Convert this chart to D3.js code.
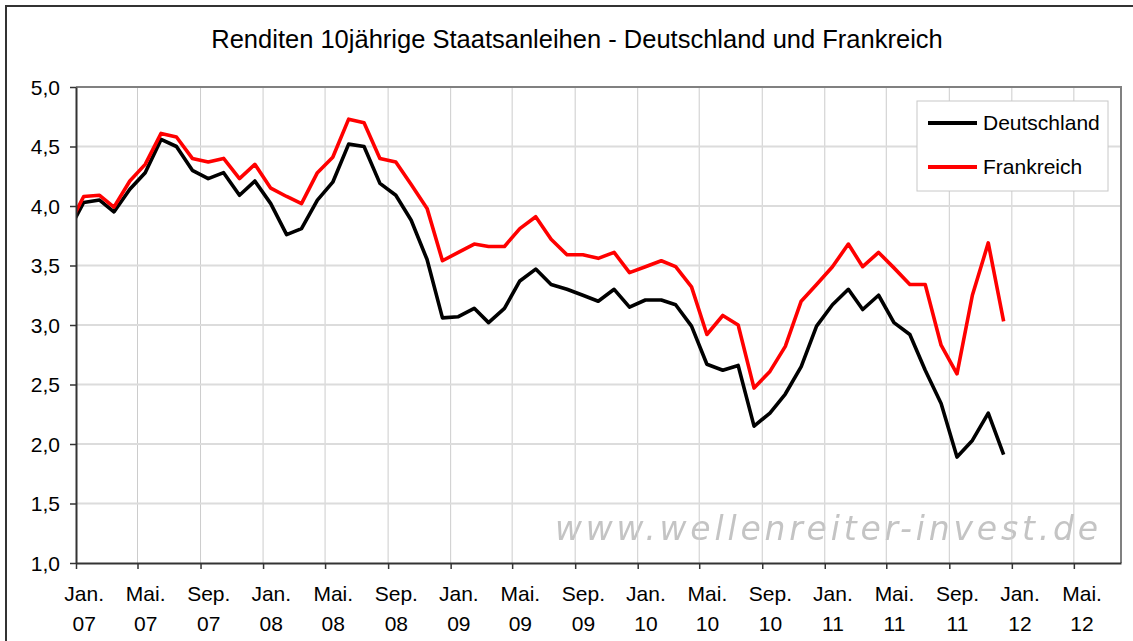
<!DOCTYPE html>
<html><head><meta charset="utf-8">
<script src="https://cdn.jsdelivr.net/npm/d3@7"></script>
<style>body{margin:0;background:#fff}svg{display:block}</style>
</head><body>
<svg id="c" width="1133" height="641"></svg>
<script>
// ---- data ----
const months = [
  "2006-12",
  "2007-01","2007-02","2007-03","2007-04","2007-05","2007-06","2007-07","2007-08","2007-09","2007-10","2007-11","2007-12",
  "2008-01","2008-02","2008-03","2008-04","2008-05","2008-06","2008-07","2008-08","2008-09","2008-10","2008-11","2008-12",
  "2009-01","2009-02","2009-03","2009-04","2009-05","2009-06","2009-07","2009-08","2009-09","2009-10","2009-11","2009-12",
  "2010-01","2010-02","2010-03","2010-04","2010-05","2010-06","2010-07","2010-08","2010-09","2010-10","2010-11","2010-12",
  "2011-01","2011-02","2011-03","2011-04","2011-05","2011-06","2011-07","2011-08","2011-09","2011-10","2011-11","2011-12"
];
const deutschland = [
  3.78,
  4.03,4.05,3.95,4.14,4.28,4.56,4.50,4.30,4.23,4.28,4.09,4.21,
  4.02,3.76,3.81,4.05,4.20,4.52,4.50,4.19,4.09,3.88,3.55,3.06,
  3.07,3.14,3.02,3.14,3.37,3.47,3.34,3.30,3.25,3.20,3.30,3.15,
  3.21,3.21,3.17,2.99,2.67,2.62,2.66,2.15,2.26,2.42,2.65,2.99,
  3.17,3.30,3.13,3.25,3.02,2.92,2.62,2.34,1.89,2.03,2.26,1.91
];
const frankreich = [
  3.82,
  4.08,4.09,3.99,4.21,4.35,4.61,4.58,4.40,4.37,4.40,4.23,4.35,
  4.15,4.08,4.02,4.28,4.41,4.73,4.70,4.40,4.37,4.18,3.98,3.54,
  3.61,3.68,3.66,3.66,3.81,3.91,3.72,3.59,3.59,3.56,3.61,3.44,
  3.49,3.54,3.49,3.32,2.92,3.08,3.00,2.47,2.61,2.82,3.20,3.34,
  3.49,3.68,3.49,3.61,3.48,3.34,3.34,2.83,2.59,3.25,3.69,3.03
];
const seriesNames = ["Deutschland", "Frankreich"];
const seriesColors = ["#000000", "#ff0000"];
const tickMonths = ["2007-01","2007-05","2007-09","2008-01","2008-05","2008-09","2009-01","2009-05","2009-09",
  "2010-01","2010-05","2010-09","2011-01","2011-05","2011-09","2012-01","2012-05"];
const tickLabelsTop = ["Jan.","Mai.","Sep.","Jan.","Mai.","Sep.","Jan.","Mai.","Sep.","Jan.","Mai.","Sep.","Jan.","Mai.","Sep.","Jan.","Mai."];
const tickLabelsBottom = ["07","07","07","08","08","08","09","09","09","10","10","10","11","11","11","12","12"];
const yTicks = [1.0,1.5,2.0,2.5,3.0,3.5,4.0,4.5,5.0];
const yTickLabels = ["1,0","1,5","2,0","2,5","3,0","3,5","4,0","4,5","5,0"];
const title = "Renditen 10jährige Staatsanleihen - Deutschland und Frankreich";
const watermark = "www.wellenreiter-invest.de";

// ---- layout ----
const L = 76, R = 1121, T = 87, B = 563;
const parseM = s => { const [yy, mm] = s.split("-").map(Number); return new Date(yy, mm - 1, 1); };
const x = d3.scaleTime().domain([new Date(2007,0,1), new Date(2012,7,1)]).range([L, R]);
const y = d3.scaleLinear().domain([1,5]).range([B, T]);
const FONT = "'Liberation Sans', Arial, sans-serif";

const svg = d3.select("#c");
svg.append("rect").attr("x",6).attr("y",6).attr("width",1200).attr("height",800)
  .attr("fill","#fff").attr("stroke","#333").attr("stroke-width",2);

// watermark
svg.append("filter").attr("id","blur").append("feGaussianBlur").attr("stdDeviation",0.6);
svg.append("text").attr("x",555).attr("y",540)
  .attr("font-family","'DejaVu Sans', Verdana, sans-serif").attr("font-style","italic")
  .attr("font-size",33).attr("fill","#c4c4c4").attr("filter","url(#blur)")
  .attr("textLength",543).attr("lengthAdjust","spacing").text(watermark);

// gridlines
const tickDates = tickMonths.map(parseM);
svg.append("g").selectAll("line").data(tickDates.slice(1)).join("line")
  .attr("x1",d=>x(d)).attr("x2",d=>x(d)).attr("y1",T).attr("y2",B)
  .attr("stroke","#cccccc").attr("stroke-width",1);
svg.append("g").selectAll("line").data(yTicks.filter(v=>v>1 && v<5)).join("line")
  .attr("x1",L).attr("x2",R).attr("y1",d=>y(d)).attr("y2",d=>y(d))
  .attr("stroke","#dcdcdc").attr("stroke-width",2);

// plot border (top/right gray)
svg.append("path").attr("d",`M${L},${T}H${R}V${B}`).attr("fill","none")
  .attr("stroke","#808080").attr("stroke-width",2);

// lines
svg.append("clipPath").attr("id","clip").append("rect")
  .attr("x",L).attr("y",T-10).attr("width",R-L).attr("height",B-T+10);
const line = d3.line().x((d,i)=>x(d3.timeDay.offset(parseM(months[i]),15))).y(d=>y(d));
[deutschland, frankreich].forEach((s,k)=>{
  svg.append("path").datum(s).attr("clip-path","url(#clip)")
    .attr("d",line).attr("fill","none").attr("stroke",seriesColors[k])
    .attr("stroke-width",3.6).attr("stroke-linejoin","round");
});

// y axis
const ya = svg.append("g").attr("transform",`translate(${L},0)`)
  .call(d3.axisLeft(y).tickValues(yTicks).tickFormat((d,i)=>yTickLabels[i]).tickSize(6).tickSizeOuter(0));
ya.select(".domain").attr("stroke","#333").attr("stroke-width",2);
ya.selectAll(".tick line").attr("stroke","#333").attr("stroke-width",1.5);
ya.selectAll(".tick text").attr("font-family",FONT).attr("font-size",21).attr("fill","#000")
  .attr("x",-16).attr("dy","0.35em");

// x axis
const xa = svg.append("g").attr("transform",`translate(0,${B})`)
  .call(d3.axisBottom(x).tickValues(tickDates).tickFormat("").tickSize(6).tickSizeOuter(0));
xa.select(".domain").attr("stroke","#333").attr("stroke-width",2);
xa.selectAll(".tick line").attr("stroke","#333").attr("stroke-width",1.5);
xa.selectAll(".tick").each(function(d,i){
  const off = x(d3.timeDay.offset(d,15)) - x(d);
  const t = d3.select(this).append("text").attr("font-family",FONT).attr("font-size",21)
    .attr("fill","#000").attr("text-anchor","middle");
  t.append("tspan").attr("x",off).attr("y",38).text(tickLabelsTop[i]);
  t.append("tspan").attr("x",off).attr("y",68).text(tickLabelsBottom[i]);
});

// title
svg.append("text").attr("x",577).attr("y",48).attr("text-anchor","middle")
  .attr("font-family",FONT).attr("font-size",25.5).attr("fill","#000").text(title);

// legend
const lg = svg.append("g");
lg.append("rect").attr("x",917).attr("y",101).attr("width",191).attr("height",90)
  .attr("fill","#fff").attr("stroke","#c8c8c8").attr("stroke-width",1);
seriesNames.forEach((n,k)=>{
  const yy = 123 + k*44;
  lg.append("line").attr("x1",928).attr("x2",977).attr("y1",yy).attr("y2",yy)
    .attr("stroke",seriesColors[k]).attr("stroke-width",4);
  lg.append("text").attr("x",983).attr("y",yy).attr("dy","0.35em")
    .attr("font-family",FONT).attr("font-size",21).attr("fill","#000").text(n);
});
</script>
</body></html>
